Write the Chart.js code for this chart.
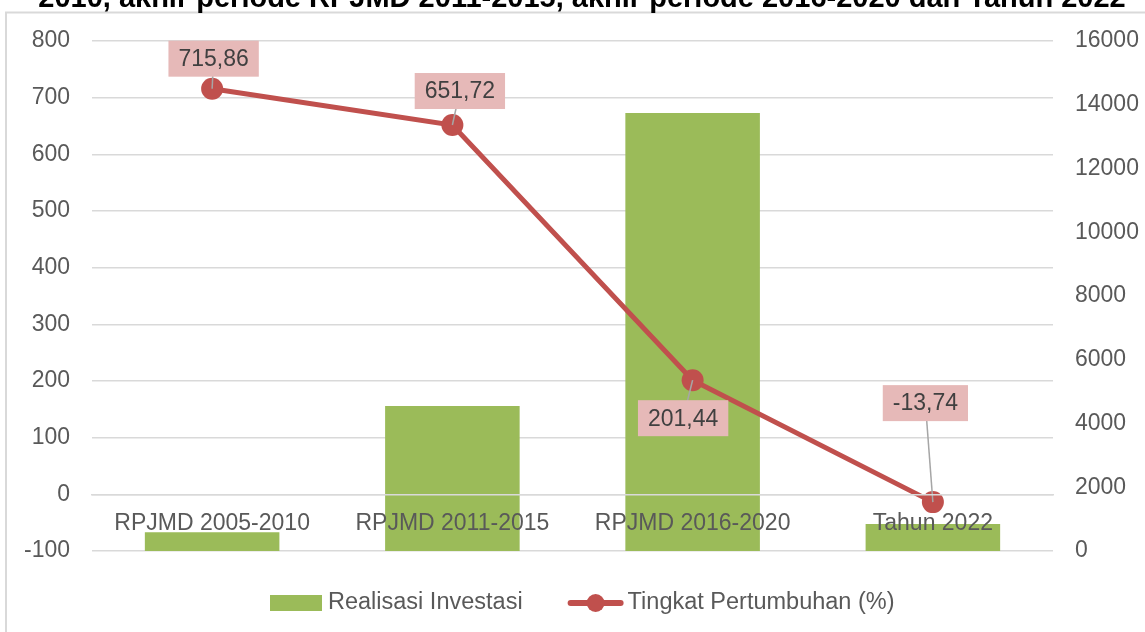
<!DOCTYPE html>
<html><head><meta charset="utf-8">
<script src="https://cdn.jsdelivr.net/npm/chart.js@4/dist/chart.umd.min.js"></script>
<style>html,body{margin:0;padding:0;background:#fff;overflow:hidden}</style>
</head><body>
<canvas id="c" width="1145" height="632"></canvas>
<script>
// ---- data ----
const categories = ['RPJMD 2005-2010', 'RPJMD 2011-2015', 'RPJMD 2016-2020', 'Tahun 2022'];
const realisasiInvestasi = [590, 4550, 13740, 850];
const tingkatPertumbuhan = [715.86, 651.72, 201.44, -13.74];
const leftAxisTicks = { min: -100, max: 800, step: 100 };
const rightAxisTicks = { min: 0, max: 16000, step: 2000 };
const seriesNames = ['Realisasi Investasi', 'Tingkat Pertumbuhan (%)'];
const titleLine = '2010, akhir periode RPJMD 2011-2015, akhir periode 2016-2020 dan Tahun 2022';

// ---- style ----
const FONT = "'Liberation Sans', Arial, sans-serif";
const GREEN = '#9bbb59', RED = '#c0504d', GRID = '#d9d9d9', TXT = '#595959';
const labelOffsets = [[1.5, -30], [7.5, -34], [-9.5, 38], [-7.5, -99]];

const decor = {
  id: 'decor',
  beforeDraw(chart) {
    const c = chart.ctx;
    c.save();
    c.fillStyle = '#fff'; c.fillRect(0, 0, chart.width, chart.height);
    c.strokeStyle = GRID; c.lineWidth = 2;
    c.strokeRect(6, 12.5, 1300, 800);
    c.fillStyle = '#000'; c.font = 'bold 29px ' + FONT;
    c.textAlign = 'center'; c.textBaseline = 'alphabetic';
    c.fillText(titleLine, 582, 6.5);
    c.restore();
  },
  afterDatasetsDraw(chart) {
    const c = chart.ctx;
    const meta = chart.getDatasetMeta(0);
    c.save();
    c.font = '23px ' + FONT;
    meta.data.forEach((pt, i) => {
      const [dx, dy] = labelOffsets[i];
      const cx = pt.x + dx, cy = pt.y + dy;
      const text = tingkatPertumbuhan[i].toFixed(2).replace('.', ',');
      const w = c.measureText(text).width + 20, h = 36;
      c.strokeStyle = '#a6a6a6'; c.lineWidth = 1.5;
      c.beginPath(); c.moveTo(pt.x, pt.y); c.lineTo(cx, cy); c.stroke();
      c.fillStyle = '#e6b9b8'; c.fillRect(cx - w / 2, cy - h / 2, w, h);
      c.fillStyle = '#404040'; c.textAlign = 'center'; c.textBaseline = 'middle';
      c.fillText(text, cx, cy + 1);
    });
    c.restore();
  },
  afterDraw(chart) {
    const c = chart.ctx;
    c.save();
    c.font = '23.5px ' + FONT;
    c.textBaseline = 'middle'; c.textAlign = 'left';
    const y = 603;
    const w1 = c.measureText(seriesNames[0]).width;
    let x = 270;
    c.fillStyle = GREEN; c.fillRect(x, y - 8, 52, 16);
    x += 58;
    c.fillStyle = TXT; c.fillText(seriesNames[0], x, y);
    x += w1 + 45;
    c.strokeStyle = RED; c.lineWidth = 6; c.lineCap = 'round';
    c.beginPath(); c.moveTo(x + 3, y); c.lineTo(x + 53, y); c.stroke();
    c.fillStyle = RED; c.beginPath(); c.arc(x + 28, y, 9, 0, Math.PI * 2); c.fill();
    x += 60;
    c.fillStyle = TXT; c.fillText(seriesNames[1], x, y);
    c.restore();
  }
};

const plain = v => String(v);

new Chart(document.getElementById('c'), {
  type: 'bar',
  data: {
    labels: categories,
    datasets: [
      { type: 'line', label: seriesNames[1], data: tingkatPertumbuhan, yAxisID: 'y',
        borderColor: RED, backgroundColor: RED, borderWidth: 5, pointRadius: 11,
        pointBackgroundColor: RED, pointBorderWidth: 0, tension: 0, order: 0 },
      { type: 'bar', label: seriesNames[0], data: realisasiInvestasi, yAxisID: 'y1',
        backgroundColor: GREEN, categoryPercentage: 1, barPercentage: 0.56, order: 1 }
    ]
  },
  options: {
    responsive: false, animation: false, devicePixelRatio: 1,
    layout: { padding: { top: 41, bottom: 81, left: 0, right: 0 } },
    plugins: { legend: { display: false }, tooltip: { enabled: false }, title: { display: false } },
    scales: {
      x: {
        position: { y: 0 },
        grid: { display: false, drawTicks: false },
        border: { display: true, color: GRID, width: 1.5, z: 1 },
        ticks: { z: 1, color: TXT, font: { size: 23, family: FONT }, maxRotation: 0, autoSkip: false, padding: 16 }
      },
      y: {
        position: 'left', min: leftAxisTicks.min, max: leftAxisTicks.max,
        ticks: { stepSize: leftAxisTicks.step, color: TXT, font: { size: 23, family: FONT }, padding: 22, callback: plain },
        grid: { color: GRID, lineWidth: 1.5, drawTicks: false },
        border: { display: false },
        afterFit(s) { s.width = 92; }
      },
      y1: {
        position: 'right', min: rightAxisTicks.min, max: rightAxisTicks.max,
        ticks: { stepSize: rightAxisTicks.step, color: TXT, font: { size: 23, family: FONT }, padding: 22, callback: plain },
        grid: { display: false, drawTicks: false },
        border: { display: false },
        afterFit(s) { s.width = 92; }
      }
    }
  },
  plugins: [decor]
});
</script>
</body></html>
